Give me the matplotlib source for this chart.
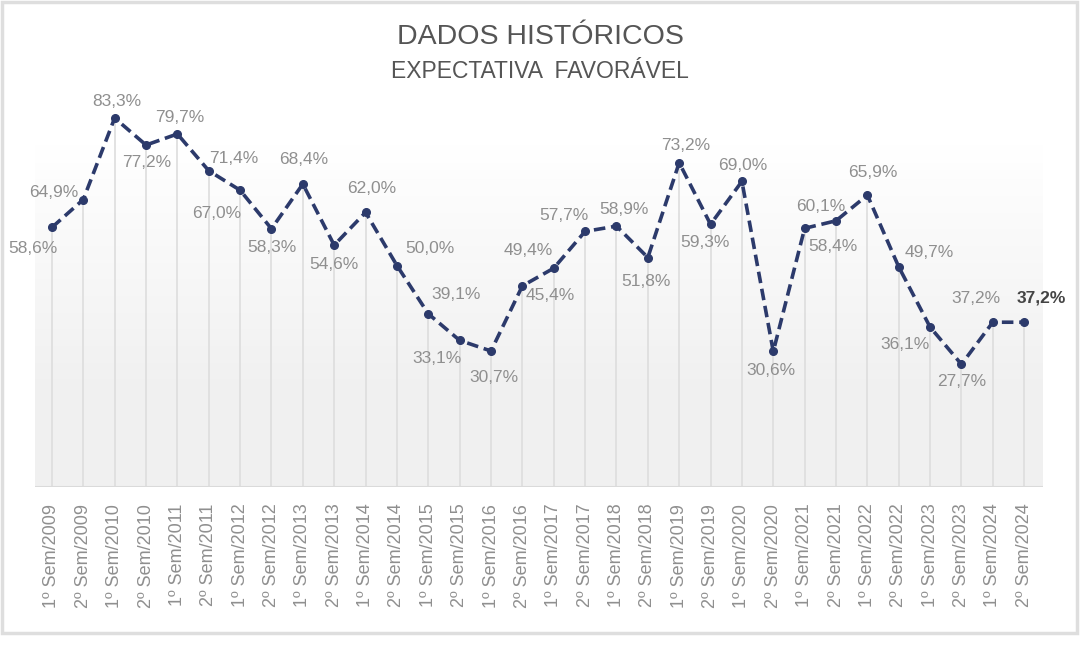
import matplotlib.pyplot as plt
import numpy as np
from matplotlib.patches import Rectangle

plt.rcParams['font.family'] = ['Liberation Sans', 'DejaVu Sans']

# periods and values (% expectativa favoravel)
periods = []
for year in range(2009, 2025):
    periods.append(f"1º Sem/{year}")
    periods.append(f"2º Sem/{year}")

values = [58.6, 64.9, 83.3, 77.2, 79.7, 71.4, 67.0, 58.3, 68.4, 54.6,
          62.0, 50.0, 39.1, 33.1, 30.7, 45.4, 49.4, 57.7, 58.9, 51.8,
          73.2, 59.3, 69.0, 30.6, 58.4, 60.1, 65.9, 49.7, 36.1, 27.7,
          37.2, 37.2]

# label offsets in pixels (dx, dy) relative to the point
label_offsets = [(-19, -21), (-30, 7), (2, 17), (1, -17), (2, 16), (25, 12),
                 (-23, -23), (0, -19), (1, 25), (0, -19), (6, 24), (33, 17),
                 (28, 19), (-23, -18), (3, -26), (28, -10), (-25, 18), (-21, 16),
                 (8, 17), (-2, -24), (6, 17), (-6, -18), (1, 16), (-2, -19),
                 (28, -18), (-15, 14), (5, 23), (31, 14), (-25, -17), (0, -17),
                 (-17, 24), (17, 24)]

x = np.arange(len(values))
line_color = '#2c3a6b'
text_gray = '#8f8f8f'

fig = plt.figure(figsize=(10.8, 6.46), dpi=100)
ax = fig.add_axes([35 / 1080, (646 - 487) / 646, 1008 / 1080, (487 - 60) / 646])

x0, x1, y0, y1 = -0.54, 31.6, 0, 96.4
ax.set_xlim(x0, x1)
ax.set_ylim(y0, y1)

# background gradient: white at top, light gray near the baseline
t = np.linspace(0, 1, 300)  # 0 = top, 1 = bottom
level = 1 - 0.055 * np.clip((t - 0.2) / 0.55, 0, 1)
bg = np.repeat(level[:, None], 3, axis=1)[:, None, :]
ax.imshow(bg, aspect='auto', extent=[x0, x1, y0, y1], zorder=0,
          interpolation='bilinear')

# drop lines
ax.vlines(x, 0, values, color='#dddddd', linewidth=1.2, zorder=1)
ax.axhline(0, color='#dadada', linewidth=1.5, zorder=1)

ax.plot(x, values, color=line_color, linewidth=2.6, linestyle=(0, (3.2, 1.6)),
        marker='o', markersize=5.5, zorder=3)

for i, (v, (dx, dy)) in enumerate(zip(values, label_offsets)):
    txt = f"{v:.1f}%".replace('.', ',')
    last = i == len(values) - 1
    ax.annotate(txt, (x[i], v), xytext=(dx, dy), textcoords='offset pixels',
                ha='center', va='center', fontsize=12.5,
                color='#444444' if last else text_gray,
                fontweight='bold' if last else 'normal',
                annotation_clip=False, zorder=4)

ax.set_xticks(x)
ax.set_xticklabels(periods, rotation=90, fontsize=13, color=text_gray)
ax.tick_params(axis='x', length=0, pad=12)
ax.set_yticks([])
for s in ax.spines.values():
    s.set_visible(False)

fig.text(0.5, 1 - 37 / 646, "DADOS HISTÓRICOS", ha='center', va='center',
         fontsize=20.5, color='#555555')
fig.text(0.5, 1 - 72 / 646, "EXPECTATIVA  FAVORÁVEL", ha='center', va='center',
         fontsize=16.5, color='#555555')

# outer frame
fig.patches.append(Rectangle((2 / 1080, 13 / 646), 1075 / 1080, 631 / 646,
                             transform=fig.transFigure, fill=False,
                             edgecolor='#dedede', linewidth=2.5))

fig.savefig('out.png', dpi=100)
